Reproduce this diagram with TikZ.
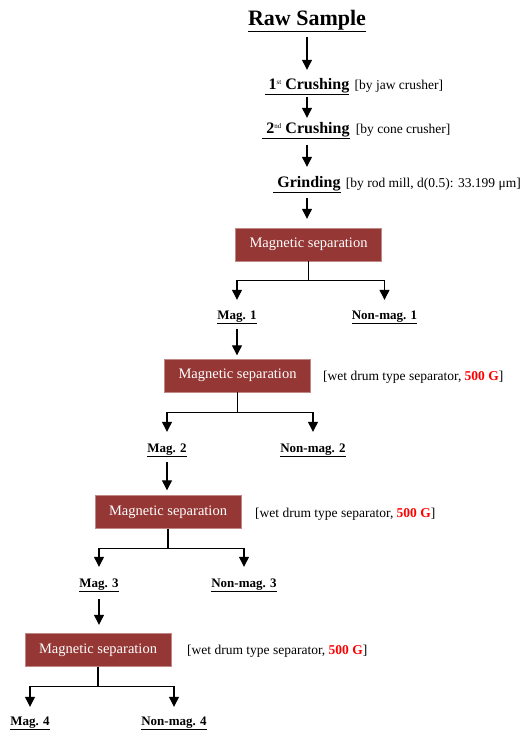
\documentclass[tikz,border=0pt]{standalone}
\usepackage{fontspec}
\setmainfont{Liberation Serif}
\usetikzlibrary{arrows.meta,calc}
\definecolor{boxred}{HTML}{953735}
\definecolor{gred}{HTML}{FF0000}
\newcommand{\tinysup}[1]{\raisebox{5pt}{\fontsize{7}{8}\selectfont\mdseries #1}}
\begin{document}
\begin{tikzpicture}[x=1pt,y=-1pt,
  arr/.style={line width=1.2pt,-{Triangle[length=10pt,width=10pt]}},
  rawst/.style={inner sep=0pt,anchor=base,font=\fontsize{22}{26}\selectfont\bfseries,text height=15pt,text depth=4pt},
  lvl/.style={inner sep=0pt,anchor=base,font=\fontsize{16}{19}\selectfont\bfseries,text height=11pt,text depth=4pt},
  note/.style={inner sep=0pt,anchor=base west,font=\fontsize{13.5}{16}\selectfont,text height=9pt,text depth=3pt},
  sep/.style={fill=boxred,draw=boxred!60!white,line width=0.4pt,text=white,minimum width=146pt,minimum height=33pt,inner sep=0pt,font=\fontsize{14.5}{17}\selectfont},
  prod/.style={inner sep=0pt,anchor=base,font=\fontsize{13}{15}\selectfont\bfseries,text height=10pt,text depth=4pt}]
\useasboundingbox (0,0) rectangle (524,731);

% top chain
\node[rawst] (raw) at (307,25) {\underline{Raw Sample}};
\node[lvl] (c1) at (307,89) {\underline{\ 1\tinysup{st} Crushing}};
\node[note] (c1n) at ([xshift=5pt]c1.base east) {[by jaw crusher]};
\node[lvl] (c2) at (306,133) {\underline{\ 2\tinysup{nd} Crushing}};
\node[note] (c2n) at ([xshift=6pt]c2.base east) {[by cone crusher]};
\node[lvl] (gr) at (307,187) {\underline{\ Grinding}};
\node[note] (grn) at ([xshift=5pt]gr.base east) {[by rod mill, d(0.5): 33.199 μm]};

\draw[arr] ([yshift=-8pt]raw.south) -- ([yshift=8pt]raw.south |- c1.north);
\draw[arr] ([yshift=-4pt]raw.south |- c1.south) -- ([yshift=4pt]raw.south |- c2.north);
\draw[arr] ([yshift=-8pt]raw.south |- c2.south) -- ([yshift=9pt]raw.south |- gr.north);

% separation 1
\node[sep] (b1) at (308.5,244.5) {Magnetic separation};
\draw[arr] ([yshift=-7pt]raw.south |- gr.south) -- ([yshift=9pt]raw.south |- b1.north);
\node[prod] (m1) at (237,319) {\underline{Mag. 1}};
\node[prod] (n1) at (384.5,319) {\underline{Non-mag. 1}};
\draw[arr] (b1.south) -- ++(0,19) -| ([yshift=9pt]m1.north);
\draw[arr] (b1.south) -- ++(0,19) -| ([yshift=9pt]n1.north);

% separation 2
\node[sep] (b2) at (237.5,375.5) {Magnetic separation};
\node[note] (b2n) at (323,380) {[wet drum type separator, {\bfseries\color{gred}500 G}]};
\draw[arr] ([yshift=-6pt]m1.south) -- ([yshift=3.5pt]m1.south |- b2.north);
\node[prod] (m2) at (167,452) {\underline{Mag. 2}};
\node[prod] (n2) at (313,452) {\underline{Non-mag. 2}};
\draw[arr] (b2.south) -- ++(0,20) -| ([yshift=10pt]m2.north);
\draw[arr] (b2.south) -- ++(0,20) -| ([yshift=10pt]n2.north);

% separation 3
\node[sep] (b3) at (168,512) {Magnetic separation};
\node[note] (b3n) at (255,517) {[wet drum type separator, {\bfseries\color{gred}500 G}]};
\draw[arr] ([yshift=-6pt]m2.south) -- ([yshift=5pt]m2.south |- b3.north);
\node[prod] (m3) at (99,587) {\underline{Mag. 3}};
\node[prod] (n3) at (244,587) {\underline{Non-mag. 3}};
\draw[arr] (b3.south) -- ++(0,20) -| ([yshift=10pt]m3.north);
\draw[arr] (b3.south) -- ++(0,20) -| ([yshift=10pt]n3.north);

% separation 4
\node[sep] (b4) at (98,650) {Magnetic separation};
\node[note] (b4n) at (187,654) {[wet drum type separator, {\bfseries\color{gred}500 G}]};
\draw[arr] ([yshift=-8pt]m3.south) -- ([yshift=8.5pt]m3.south |- b4.north);
\node[prod] (m4) at (30,725) {\underline{Mag. 4}};
\node[prod] (n4) at (174,725) {\underline{Non-mag. 4}};
\draw[arr] (b4.south) -- ++(0,20) -| ([yshift=8pt]m4.north);
\draw[arr] (b4.south) -- ++(0,20) -| ([yshift=8pt]n4.north);
\end{tikzpicture}
\end{document}
